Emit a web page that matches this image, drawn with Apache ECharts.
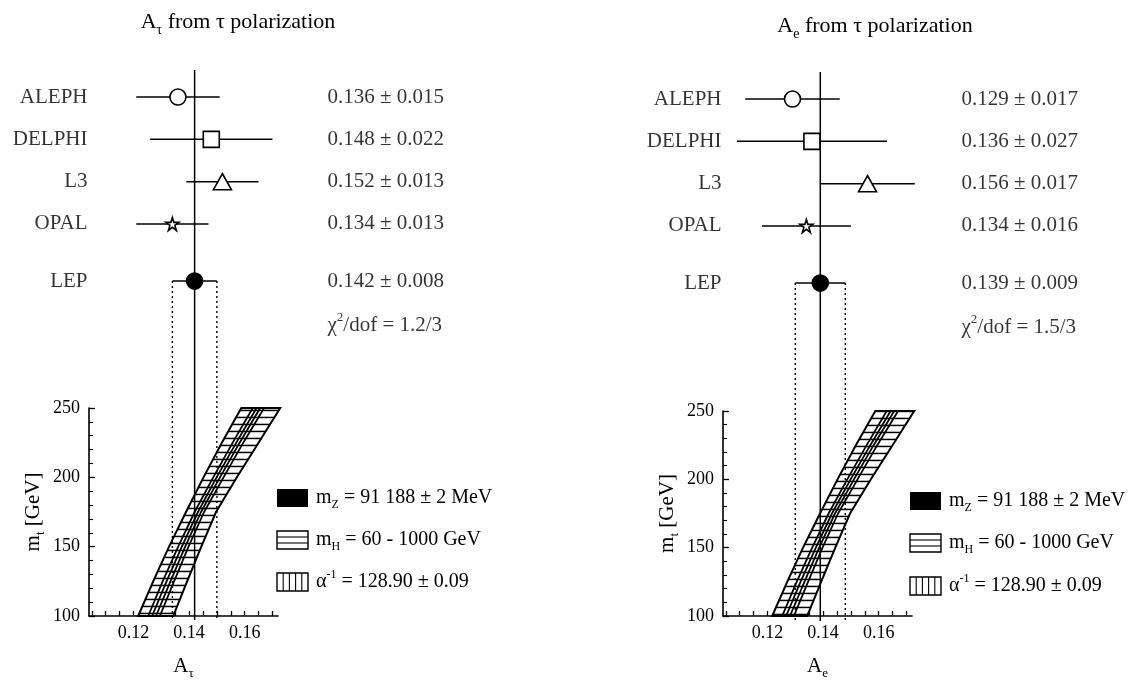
<!DOCTYPE html>
<html><head><meta charset="utf-8">
<script src="https://cdn.jsdelivr.net/npm/echarts@6/dist/echarts.min.js"></script>
<style>html,body{margin:0;padding:0;background:#fff}#c{width:1136px;height:681px}</style>
</head><body><div id="c"></div>
<script>
// ---------------- data ----------------
const experiments = ['ALEPH', 'DELPHI', 'L3', 'OPAL', 'LEP'];
const tauValues = [0.136, 0.148, 0.152, 0.134, 0.142];
const tauErrors = [0.015, 0.022, 0.013, 0.013, 0.008];
const eValues = [0.129, 0.136, 0.156, 0.134, 0.139];
const eErrors = [0.017, 0.027, 0.017, 0.016, 0.009];
const tauChi2 = '1.2/3';
const eChi2 = '1.5/3';
// SM band (same in both panels): m_t values and A at band edges
const mtValues = [100, 125, 150, 175, 200, 225, 250];
const bandMH1000 = [0.1217, 0.1271, 0.1328, 0.1389, 0.1452, 0.1518, 0.1588];
const bandMH60 = [0.1343, 0.1393, 0.1444, 0.1497, 0.1572, 0.1650, 0.1728];
const alphaLine1 = [0.1253, 0.1305, 0.1361, 0.1420, 0.1487, 0.1557, 0.1629];
const alphaLine2 = [0.1267, 0.1319, 0.1374, 0.1432, 0.1499, 0.1570, 0.1643];
const alphaLine3 = [0.1281, 0.1333, 0.1386, 0.1443, 0.1511, 0.1582, 0.1656];
const alphaLine4 = [0.1295, 0.1346, 0.1398, 0.1454, 0.1524, 0.1595, 0.1670];
// tick labels
const mtTickLabels = [100, 150, 200, 250];
const aTickLabels = [0.12, 0.14, 0.16];
const aMinorTicks = [0.105, 0.11, 0.115, 0.12, 0.125, 0.13, 0.135, 0.14, 0.145, 0.15, 0.155, 0.16, 0.165, 0.17];

// ---------------- layout ----------------
const FONT = '"Liberation Serif", "DejaVu Serif", serif';
const A_MIN = 0.104, A_MAX = 0.172;
const ROW_SP = 42.3, Y_MIN = 0.36;
const rowPos = [1, 2, 3, 4, 5.35];
const chiRow = 6.4;
const panels = [
  {sym: 'τ', values: tauValues, errors: tauErrors, chi: tauChi2,
   left: 89, width: 189, oTop: 70, oBottom: 620, bTop: 408,
   titleX: 233, titleY: 2, legX: 277, legY: [498, 540, 582], stripe: 4},
  {sym: 'e', values: eValues, errors: eErrors, chi: eChi2,
   left: 723, width: 189, oTop: 72, oBottom: 621, bTop: 411,
   titleX: 870, titleY: 6, legX: 910, legY: [501, 543, 586], stripe: 5}
];

function stripeCanvas(off) {
  const c = document.createElement('canvas');
  c.width = 8; c.height = 7;
  const g = c.getContext('2d');
  g.fillStyle = '#fff'; g.fillRect(0, 0, 8, 7);
  g.fillStyle = '#000'; g.fillRect(0, off - 0.3, 8, 1.5);
  return c;
}

const base = {fontFamily: FONT, fontWeight: 'normal', color: '#000'};
const rich = {
  b: Object.assign({fontSize: 21, lineHeight: 28}, base),
  s: Object.assign({fontSize: 13, lineHeight: 13, verticalAlign: 'bottom'}, base),
  p: Object.assign({fontSize: 13, lineHeight: 13, verticalAlign: 'top'}, base),
  t: Object.assign({fontSize: 22, lineHeight: 30}, base),
  ts: Object.assign({fontSize: 14, lineHeight: 14, verticalAlign: 'bottom'}, base),
  lb: Object.assign({fontSize: 20, lineHeight: 26}, base),
  ls: Object.assign({fontSize: 12, lineHeight: 12, verticalAlign: 'bottom'}, base),
  lp: Object.assign({fontSize: 12, lineHeight: 12, verticalAlign: 'top'}, base)
};

const STAR = 'path://M50,2 L61,36 L97,36 L68,57 L79,92 L50,70 L21,92 L32,57 L3,36 L39,36 Z';
const symbols = ['circle', 'rect', 'triangle', STAR, 'circle'];
const symSizes = [16, 16, [18, 16], 13, 16];

const grids = [], xAxes = [], yAxes = [], series = [], titles = [], graphics = [];

panels.forEach((P, pi) => {
  const oi = pi * 2, bi = pi * 2 + 1;
  const oHeight = P.oBottom - P.oTop;
  const yMax = Y_MIN + oHeight / ROW_SP;
  grids.push({left: P.left, top: P.oTop, width: P.width, height: oHeight});
  grids.push({left: P.left, top: P.bTop, width: P.width, height: P.oBottom - P.bTop});
  xAxes.push({gridIndex: oi, type: 'value', min: A_MIN, max: A_MAX, show: false});
  yAxes.push({gridIndex: oi, type: 'value', inverse: true, min: Y_MIN, max: yMax, show: false});
  xAxes.push({
    gridIndex: bi, type: 'value', min: A_MIN, max: A_MAX,
    name: '{b|A}{s|' + P.sym + '}', nameLocation: 'middle', nameGap: 36,
    nameTextStyle: {rich: rich},
    axisLine: {lineStyle: {color: '#000', width: 1.6}},
    axisTick: {inside: true, length: 5, customValues: aMinorTicks, lineStyle: {color: '#000', width: 1.3}},
    axisLabel: {customValues: aTickLabels, formatter: v => v.toFixed(2), fontFamily: FONT, fontSize: 18, color: '#000', margin: 8},
    splitLine: {show: false}
  });
  yAxes.push({
    gridIndex: bi, type: 'value', min: 100, max: 250, interval: 50,
    name: '{b|m}{s|t}{b| [GeV]}', nameLocation: 'middle', nameRotate: 90, nameGap: 42,
    nameTextStyle: {rich: rich},
    axisLine: {lineStyle: {color: '#000', width: 1.6}},
    axisTick: {inside: true, length: 6, lineStyle: {color: '#000', width: 1.3}},
    minorTick: {show: true, splitNumber: 5, length: 4, lineStyle: {color: '#000', width: 1.1}},
    axisLabel: {customValues: mtTickLabels, fontFamily: FONT, fontSize: 18, color: '#000', margin: 9},
    splitLine: {show: false}, minorSplitLine: {show: false}
  });

  // ---- SM band (bottom grid) ----
  const pat = {image: stripeCanvas(P.stripe), repeat: 'repeat'};
  series.push({
    type: 'custom', xAxisIndex: bi, yAxisIndex: bi, clip: false, silent: true,
    data: [[bandMH1000[0], mtValues[0]]],
    renderItem: (params, api) => {
      const pts = [];
      for (let i = 0; i < mtValues.length; i++) pts.push(api.coord([bandMH1000[i], mtValues[i]]));
      for (let i = mtValues.length - 1; i >= 0; i--) pts.push(api.coord([bandMH60[i], mtValues[i]]));
      return {type: 'polygon', shape: {points: pts}, style: {fill: pat, stroke: '#000', lineWidth: 2}};
    }
  });
  [alphaLine1, alphaLine2, alphaLine3, alphaLine4].forEach(arr => {
    series.push({
      type: 'line', xAxisIndex: bi, yAxisIndex: bi, symbol: 'none', silent: true,
      data: arr.map((a, i) => [a, mtValues[i]]),
      lineStyle: {color: '#000', width: 1.8}
    });
  });

  // ---- overlay (measurements) ----
  const lepIdx = experiments.length - 1;
  const lepV = P.values[lepIdx], lepE = P.errors[lepIdx];
  series.push({
    type: 'line', xAxisIndex: oi, yAxisIndex: oi, symbol: 'none', silent: true,
    data: [[lepV, Y_MIN], [lepV, yMax]], lineStyle: {color: '#000', width: 1.5}
  });
  [lepV - lepE, lepV + lepE].forEach(x => {
    series.push({
      type: 'line', xAxisIndex: oi, yAxisIndex: oi, symbol: 'none', silent: true,
      data: [[x, rowPos[lepIdx]], [x, yMax]],
      lineStyle: {color: '#000', width: 1.4, type: [2, 3]}
    });
  });
  series.push({
    type: 'custom', xAxisIndex: oi, yAxisIndex: oi, clip: false, silent: true,
    data: P.values.map((v, i) => [v - P.errors[i], v + P.errors[i], rowPos[i]]),
    renderItem: (params, api) => {
      const a = api.coord([api.value(0), api.value(2)]);
      const b = api.coord([api.value(1), api.value(2)]);
      return {type: 'line', shape: {x1: a[0], y1: a[1], x2: b[0], y2: b[1]}, style: {stroke: '#000', lineWidth: 1.5}};
    }
  });
  series.push({
    type: 'scatter', xAxisIndex: oi, yAxisIndex: oi, silent: true, clip: false, z: 5,
    data: P.values.map((v, i) => ({
      value: [v, rowPos[i]], symbol: symbols[i], symbolSize: symSizes[i],
      itemStyle: {color: i === lepIdx ? '#000' : '#fff', borderColor: '#000', borderWidth: 1.6, opacity: 1}
    }))
  });
  series.push({
    type: 'scatter', xAxisIndex: oi, yAxisIndex: oi, silent: true, clip: false,
    symbolSize: 1, itemStyle: {color: 'rgba(0,0,0,0)'},
    data: experiments.map((n, i) => ({value: [A_MIN, rowPos[i]], name: n})),
    label: {show: true, position: 'left', distance: 1, formatter: p => '{b|' + p.name + '}', rich: rich}
  });
  const valTexts = P.values.map((v, i) => v.toFixed(3) + ' ± ' + P.errors[i].toFixed(3));
  series.push({
    type: 'scatter', xAxisIndex: oi, yAxisIndex: oi, silent: true, clip: false,
    symbolSize: 1, itemStyle: {color: 'rgba(0,0,0,0)'},
    data: valTexts.map((t, i) => ({value: [A_MAX, rowPos[i]], name: '{b|' + t + '}'}))
      .concat([{value: [A_MAX, chiRow], name: '{b|χ}{p|2}{b|/dof = ' + P.chi + '}'}]),
    label: {show: true, position: 'right', distance: 49, align: 'left', formatter: p => p.name, rich: rich}
  });

  titles.push({
    text: '{t|A}{ts|' + P.sym + '}{t| from τ polarization}',
    left: P.titleX, top: P.titleY, textAlign: 'center',
    textStyle: {fontWeight: 'normal', fontFamily: FONT, rich: rich}
  });

  const bw = 31, bh = 18, X = P.legX;
  graphics.push({type: 'rect', shape: {x: X, y: P.legY[0] - bh / 2, width: bw, height: bh}, style: {fill: '#000'}});
  graphics.push({type: 'rect', shape: {x: X, y: P.legY[1] - bh / 2, width: bw, height: bh}, style: {fill: '#fff', stroke: '#000', lineWidth: 1.4}});
  [1 / 3, 2 / 3].forEach(f => graphics.push({type: 'line', shape: {x1: X, y1: P.legY[1] - bh / 2 + bh * f, x2: X + bw, y2: P.legY[1] - bh / 2 + bh * f}, style: {stroke: '#000', lineWidth: 1.1}}));
  graphics.push({type: 'rect', shape: {x: X, y: P.legY[2] - bh / 2, width: bw, height: bh}, style: {fill: '#fff', stroke: '#000', lineWidth: 1.4}});
  [0.2, 0.4, 0.6, 0.8].forEach(f => graphics.push({type: 'line', shape: {x1: X + bw * f, y1: P.legY[2] - bh / 2, x2: X + bw * f, y2: P.legY[2] + bh / 2}, style: {stroke: '#000', lineWidth: 1.1}}));
  const legTexts = [
    '{lb|m}{ls|Z}{lb| = 91 188 ± 2 MeV}',
    '{lb|m}{ls|H}{lb| = 60 - 1000 GeV}',
    '{lb|α}{lp|-1}{lb| = 128.90 ± 0.09}'
  ];
  legTexts.forEach((t, i) => graphics.push({
    type: 'text', x: X + bw + 8, y: P.legY[i],
    style: {text: t, rich: rich, verticalAlign: 'middle', align: 'left', fill: '#000'}
  }));
});

const chart = echarts.init(document.getElementById('c'), null, {renderer: 'canvas'});
chart.setOption({
  backgroundColor: '#fff',
  animation: false,
  title: titles,
  grid: grids,
  xAxis: xAxes,
  yAxis: yAxes,
  series: series,
  graphic: graphics
});
</script>
</body></html>
